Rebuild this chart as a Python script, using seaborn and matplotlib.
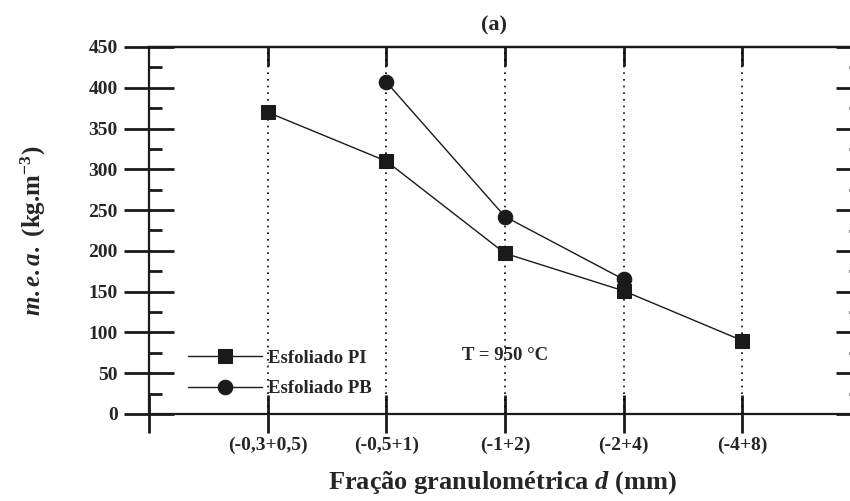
import numpy as np
import pandas as pd
import seaborn as sns
import matplotlib.pyplot as plt
from matplotlib.ticker import MultipleLocator

# data
fractions = ["(-0,3+0,5)", "(-0,5+1)", "(-1+2)", "(-2+4)", "(-4+8)"]
mea_pi = [370, 310, 197, 151, 90]
mea_pb = [np.nan, 407, 242, 165, np.nan]
series_names = ["Esfoliado PI", "Esfoliado PB"]

sns.set_style("ticks")
plt.rcParams["font.family"] = ["Liberation Serif", "DejaVu Serif"]
plt.rcParams["font.weight"] = "bold"
plt.rcParams["mathtext.fontset"] = "custom"
plt.rcParams["mathtext.rm"] = "Liberation Serif:bold"
plt.rcParams["mathtext.it"] = "Liberation Serif:italic:bold"
plt.rcParams["mathtext.bf"] = "Liberation Serif:bold"

ink = "#1a1a1a"
pos = np.arange(1, len(fractions) + 1)
df = pd.DataFrame({
    "pos": np.concatenate([pos, pos]),
    "mea": mea_pi + mea_pb,
    "serie": [series_names[0]] * len(pos) + [series_names[1]] * len(pos),
}).dropna()

fig = plt.figure(figsize=(8.5, 5.01), dpi=100)
ax = fig.add_axes([149 / 850, 87 / 501, 712 / 850, 367 / 501])

# dotted guide lines at each category
ax.vlines(pos, 0, 450, colors="black", linestyles=(0, (1, 3)), linewidth=1.2, zorder=1)

sns.lineplot(
    data=df, x="pos", y="mea", hue="serie", style="serie",
    palette={series_names[0]: ink, series_names[1]: ink},
    markers={series_names[0]: "s", series_names[1]: "o"},
    dashes=False, markersize=10.5, linewidth=1.0, markeredgecolor=ink,
    ax=ax, zorder=3,
)

ax.set_xlim(0, 6)
ax.set_ylim(0, 450)
ax.set_xticks(np.arange(0, 6))
ax.set_xticklabels([""] + fractions, fontsize=14, fontweight="bold")
ax.yaxis.set_major_locator(MultipleLocator(50))
ax.yaxis.set_minor_locator(MultipleLocator(25))
for lab in ax.get_yticklabels():
    lab.set_fontsize(14)
    lab.set_fontweight("bold")

for s in ax.spines.values():
    s.set_linewidth(1.6)
    s.set_color(ink)

ax.tick_params(axis="x", which="major", direction="inout", length=28, width=2, pad=2, color=ink)
ax.tick_params(axis="y", which="major", direction="inout", length=36, width=2, pad=4.5, color=ink)
ax.tick_params(axis="y", which="minor", direction="in", length=9, width=2, color=ink)

top = ax.secondary_xaxis("top")
top.set_xticks(pos)
top.set_xticklabels([])
top.tick_params(direction="in", length=14, width=2, color=ink)
top.spines["top"].set_linewidth(1.6)

right = ax.secondary_yaxis("right")
right.yaxis.set_major_locator(MultipleLocator(50))
right.yaxis.set_minor_locator(MultipleLocator(25))
right.set_yticklabels([])
right.tick_params(which="major", direction="in", length=18, width=2, color=ink)
right.tick_params(which="minor", direction="in", length=9, width=2, color=ink)

ax.set_xlabel(r"Fração granulométrica $\mathit{d}$ (mm)", fontsize=19, fontweight="bold", va="center")
ax.xaxis.set_label_coords(0.496, -0.188)
ax.set_ylabel(r"$\mathit{m.e.a.}$ (kg.m$^{\mathregular{-3}}$)", fontsize=18, fontweight="bold", va="center")
ax.yaxis.set_label_coords(-0.163, 0.5)
fig.text(494 / 850, 1 - 25 / 501, "(a)", fontsize=16, fontweight="bold", ha="center", va="center")

ax.text(2.64, 72, "T = 950 °C", fontsize=13.5, fontweight="bold", va="center", ha="left")

handles, labels = ax.get_legend_handles_labels()
ax.legend(
    handles, labels, loc="lower left", bbox_to_anchor=(0.055, 0.045),
    frameon=False, handlelength=3.95, handletextpad=0.3,
    labelspacing=0.72, borderpad=0, borderaxespad=0, numpoints=1,
    prop={"weight": "bold", "size": 13.5},
)

fig.savefig("out.png", dpi=100)
plt.close(fig)
